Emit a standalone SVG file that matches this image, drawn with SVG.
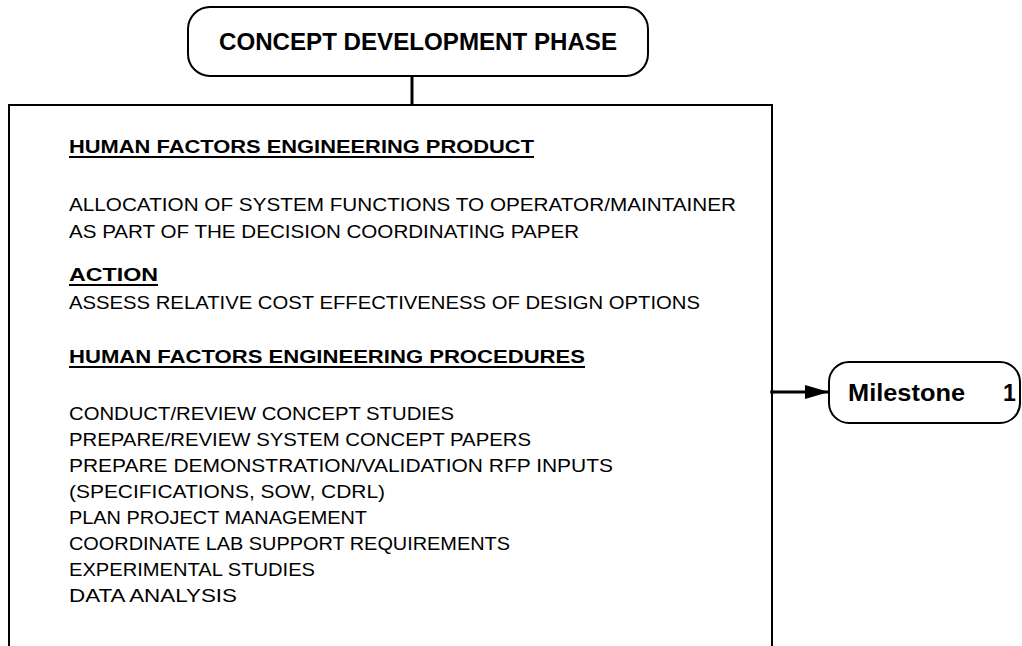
<svg xmlns="http://www.w3.org/2000/svg" width="1022" height="646" viewBox="0 0 1022 646">
<defs>
<style>
.box{fill:#fff;stroke:#000;stroke-width:2}
.t{font-family:"Liberation Sans",Arial,sans-serif;font-size:18px;fill:#000}
.h{font-family:"Liberation Sans",Arial,sans-serif;font-size:18px;font-weight:bold;fill:#000}
.big{font-family:"Liberation Sans",Arial,sans-serif;font-size:23px;font-weight:bold;fill:#000}
.ul{stroke:#000;stroke-width:2}
.con{stroke:#000;stroke-width:3;fill:none}
</style>
<marker id="arr" viewBox="0 0 24 14" refX="24" refY="7" markerWidth="24" markerHeight="14" markerUnits="userSpaceOnUse" orient="auto"><path d="M0,0 L24,7 L0,14 Z" fill="#000"/></marker>
</defs>
<rect width="1022" height="646" fill="#fff"/>
<g id="phase">
<rect class="box" x="188" y="7" width="460" height="69" rx="22"/>
<text class="big" x="418" y="50" text-anchor="middle" textLength="398" lengthAdjust="spacingAndGlyphs">CONCEPT DEVELOPMENT PHASE</text>
</g>
<g id="content">
<path class="box" d="M9,650 V105 H772 V650"/>
<text class="h" x="69" y="153" textLength="465" lengthAdjust="spacingAndGlyphs">HUMAN FACTORS ENGINEERING PRODUCT</text>
<line class="ul" x1="69" y1="157" x2="534" y2="157"/>
<text class="t" x="69" y="211" textLength="667" lengthAdjust="spacingAndGlyphs">ALLOCATION OF SYSTEM FUNCTIONS TO OPERATOR/MAINTAINER</text>
<text class="t" x="69" y="238" textLength="510" lengthAdjust="spacingAndGlyphs">AS PART OF THE DECISION COORDINATING PAPER</text>
<text class="h" x="69" y="281" textLength="89" lengthAdjust="spacingAndGlyphs">ACTION</text>
<line class="ul" x1="69" y1="285" x2="158" y2="285"/>
<text class="t" x="69" y="309" textLength="631" lengthAdjust="spacingAndGlyphs">ASSESS RELATIVE COST EFFECTIVENESS OF DESIGN OPTIONS</text>
<text class="h" x="69" y="363" textLength="516" lengthAdjust="spacingAndGlyphs">HUMAN FACTORS ENGINEERING PROCEDURES</text>
<line class="ul" x1="69" y1="367" x2="585" y2="367"/>
<text class="t" x="69" y="420" textLength="385" lengthAdjust="spacingAndGlyphs">CONDUCT/REVIEW CONCEPT STUDIES</text>
<text class="t" x="69" y="446" textLength="462" lengthAdjust="spacingAndGlyphs">PREPARE/REVIEW SYSTEM CONCEPT PAPERS</text>
<text class="t" x="69" y="472" textLength="544" lengthAdjust="spacingAndGlyphs">PREPARE DEMONSTRATION/VALIDATION RFP INPUTS</text>
<text class="t" x="69" y="498" textLength="316" lengthAdjust="spacingAndGlyphs">(SPECIFICATIONS, SOW, CDRL)</text>
<text class="t" x="69" y="524" textLength="298" lengthAdjust="spacingAndGlyphs">PLAN PROJECT MANAGEMENT</text>
<text class="t" x="69" y="550" textLength="441" lengthAdjust="spacingAndGlyphs">COORDINATE LAB SUPPORT REQUIREMENTS</text>
<text class="t" x="69" y="576" textLength="246" lengthAdjust="spacingAndGlyphs">EXPERIMENTAL STUDIES</text>
<text class="t" x="69" y="602" textLength="168" lengthAdjust="spacingAndGlyphs">DATA ANALYSIS</text>
</g>
<g id="milestone">
<rect class="box" x="829" y="362" width="191" height="61" rx="20"/>
<text class="big" x="848" y="401" textLength="117" lengthAdjust="spacingAndGlyphs">Milestone</text>
<text class="big" x="1003" y="401">1</text>
</g>
<g id="connectors">
<line class="con" x1="412" y1="76" x2="412" y2="105"/>
<line class="con" x1="772" y1="392" x2="829" y2="392" marker-end="url(#arr)"/>
<circle cx="772" cy="392" r="2" fill="#000"/>
</g>
</svg>
